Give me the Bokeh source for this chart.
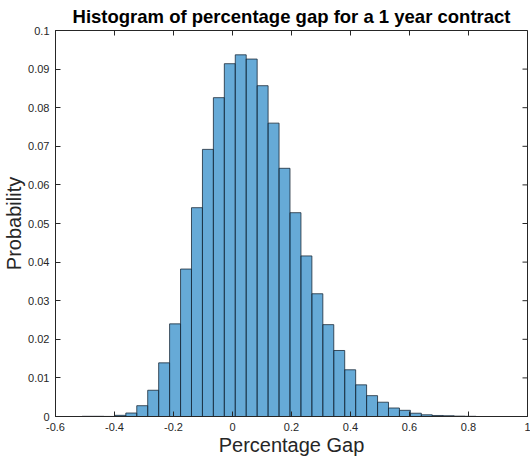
from bokeh.plotting import figure
from bokeh.models import FixedTicker, Range1d, ColumnDataSource
from bokeh.embed import file_html
from bokeh.resources import INLINE

# ---- data ----
bin_edges = [-0.510, -0.4729, -0.4358, -0.3987, -0.3616, -0.3245, -0.2874, -0.2503,
             -0.2132, -0.1761, -0.1390, -0.1019, -0.0648, -0.0277, 0.0094, 0.0465,
             0.0836, 0.1207, 0.1578, 0.1949, 0.2320, 0.2691, 0.3062, 0.3433,
             0.3804, 0.4175, 0.4546, 0.4917, 0.5288, 0.5659, 0.6030, 0.6401,
             0.6772, 0.7143, 0.7514, 0.7885, 0.8256]
probability = [0.00005, 0.00005, 0.00002, 0.0003, 0.0009, 0.0028, 0.0068, 0.0139,
               0.0240, 0.0382, 0.0541, 0.0692, 0.0826, 0.0914, 0.0937, 0.0926,
               0.0857, 0.0760, 0.0643, 0.0528, 0.0416, 0.0318, 0.0238, 0.0171,
               0.0121, 0.0082, 0.0054, 0.0037, 0.0022, 0.0016, 0.00085, 0.00044,
               0.00026, 0.0002, 0.0001, 0.00005]
x_ticks = [-0.6, -0.4, -0.2, 0, 0.2, 0.4, 0.6, 0.8, 1.0]
x_tick_labels = ["-0.6", "-0.4", "-0.2", "0", "0.2", "0.4", "0.6", "0.8", "1"]
y_ticks = [0, 0.01, 0.02, 0.03, 0.04, 0.05, 0.06, 0.07, 0.08, 0.09, 0.1]
y_tick_labels = ["0", "0.01", "0.02", "0.03", "0.04", "0.05", "0.06", "0.07", "0.08", "0.09", "0.1"]
title_text = "Histogram of percentage gap for a 1 year contract"
x_label = "Percentage Gap"
y_label = "Probability"

FONT = "Liberation Sans"
AX = "#262626"

src = ColumnDataSource(dict(left=bin_edges[:-1], right=bin_edges[1:],
                            top=probability, bottom=[0] * len(probability)))

x_lo, x_hi = x_ticks[0], x_ticks[-1]
y_lo, y_hi = y_ticks[0], y_ticks[-1]

p = figure(width=530, height=458, output_backend="svg", toolbar_location=None,
           x_range=Range1d(x_lo, x_hi), y_range=Range1d(y_lo, y_hi),
           min_border_left=55, min_border_right=3, min_border_top=30, min_border_bottom=41)
p.xgrid.visible = False
p.ygrid.visible = False
p.background_fill_color = "white"
p.border_fill_color = "white"
p.outline_line_color = AX
p.outline_line_width = 1

p.title.text = title_text
p.title.align = "center"
p.title.text_font = FONT
p.title.text_font_style = "bold"
p.title.text_font_size = "18.5px"
p.title.text_color = "black"
p.title.standoff = 7

p.quad(left="left", right="right", top="top", bottom="bottom", source=src,
       fill_color="#0072BD", fill_alpha=0.6, line_color="#1a2a3a", line_alpha=0.8, line_width=1)

# inward ticks on the top and right edges of the box (MATLAB "box on" style)
p.scatter(x=x_ticks, y=[y_hi] * len(x_ticks), marker="dash", size=10, angle=1.5708,
          line_color=AX, line_width=1)
p.scatter(x=[x_hi] * len(y_ticks), y=y_ticks, marker="dash", size=10,
          line_color=AX, line_width=1)

def style(ax, ticks, labels):
    ax.ticker = FixedTicker(ticks=ticks)
    ax.major_label_overrides = {t: l for t, l in zip(ticks, labels)}
    ax.minor_tick_line_color = None
    ax.major_tick_in = 5
    ax.major_tick_out = 0
    ax.axis_line_color = AX
    ax.major_tick_line_color = AX
    ax.major_label_text_font = FONT
    ax.major_label_text_color = AX
    ax.major_label_text_font_size = "11px"
    ax.axis_label_text_font = FONT
    ax.axis_label_text_font_style = "normal"
    ax.axis_label_text_font_size = "20px"
    ax.axis_label_text_color = AX
    ax.axis_label_standoff = 0

xa = p.xaxis[0]
style(xa, x_ticks, x_tick_labels)
xa.axis_label = x_label
xa.major_label_standoff = 6
ya = p.yaxis[0]
style(ya, y_ticks, y_tick_labels)
ya.axis_label = y_label
ya.major_label_standoff = 6

open("out.html", "w").write(file_html(p, INLINE))
